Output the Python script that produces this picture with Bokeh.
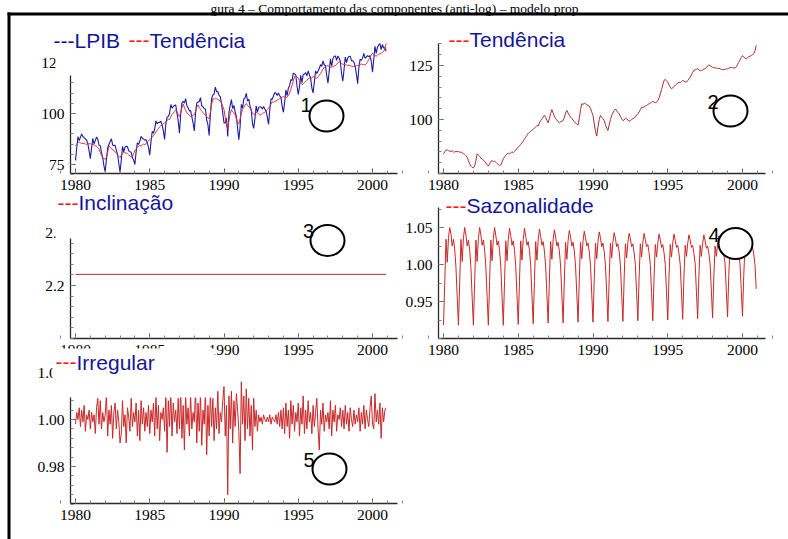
from bokeh.plotting import figure
from bokeh.models import Range1d, LinearAxis, FixedTicker, BoxAnnotation, Label, NumeralTickFormatter, BasicTickFormatter
from bokeh.embed import file_html
from bokeh.resources import INLINE

# ---------------- data (monthly, Jan 1980 - Dec 2000) ----------------
anos = list(range(1980, 2001))
meses = [a + m / 12.0 for a in anos for m in range(12)]

lpib = [
    77.0, 83.1, 88.7, 86.7, 88.4, 90.0, 88.6, 88.2, 87.5, 86.9, 85.0, 81.7,
    77.9, 83.0, 87.8, 85.1, 86.7, 88.5, 87.4, 84.4, 84.3, 80.8, 78.3, 74.3,
    71.4, 77.5, 83.1, 84.8, 86.3, 87.6, 84.7, 84.2, 84.4, 81.9, 79.9, 75.5,
    71.2, 77.2, 83.9, 81.2, 83.5, 84.0, 83.7, 81.7, 81.3, 80.9, 78.4, 77.1,
    75.0, 81.3, 85.6, 84.9, 86.5, 88.8, 87.7, 87.6, 87.0, 87.1, 85.5, 83.4,
    79.6, 86.2, 91.2, 90.4, 92.4, 96.4, 94.9, 95.6, 95.6, 96.2, 94.3, 91.5,
    87.3, 94.9, 98.2, 98.6, 99.9, 104.4, 102.6, 103.5, 104.0, 104.1, 100.2, 96.3,
    90.3, 99.6, 105.2, 106.0, 105.1, 107.3, 103.8, 102.8, 101.3, 101.4, 98.3, 95.4,
    91.5, 100.2, 105.1, 105.7, 105.8, 107.8, 103.7, 103.4, 102.4, 102.1, 96.7, 94.5,
    89.2, 99.6, 107.3, 109.1, 109.5, 112.9, 110.7, 110.8, 108.9, 108.3, 104.8, 100.2,
    95.4, 95.4, 97.8, 88.8, 100.5, 104.0, 106.8, 102.4, 104.0, 100.9, 98.5, 92.6,
    87.1, 93.4, 104.5, 102.6, 107.2, 107.7, 109.9, 106.1, 107.0, 103.6, 102.0, 95.1,
    92.7, 97.6, 103.7, 100.7, 103.0, 103.3, 103.1, 102.2, 103.4, 102.2, 101.2, 98.2,
    94.7, 101.8, 107.3, 106.9, 108.7, 110.2, 110.0, 108.8, 110.1, 108.7, 108.0, 103.5,
    100.6, 105.5, 111.5, 108.8, 112.4, 113.6, 116.6, 116.2, 119.8, 119.4, 118.9, 113.5,
    109.3, 113.2, 118.7, 115.1, 119.1, 119.3, 120.0, 118.5, 120.9, 118.9, 117.4, 112.5,
    110.1, 115.4, 120.9, 119.6, 120.8, 122.0, 124.0, 123.1, 125.8, 123.9, 123.4, 118.7,
    114.9, 120.5, 126.8, 123.2, 126.9, 128.1, 128.2, 126.1, 128.2, 127.2, 125.6, 119.6,
    115.8, 121.5, 127.7, 124.9, 127.3, 127.9, 128.1, 125.9, 125.8, 125.2, 123.1, 119.3,
    114.6, 122.5, 126.5, 126.1, 127.1, 129.5, 127.1, 127.6, 128.4, 127.9, 128.4, 125.6,
    120.3, 126.5, 132.9, 129.5, 132.5, 133.6, 134.2, 131.3, 133.8, 132.1, 132.3, 130.5,
]

tendencia = [
    84.1, 85.0, 85.8, 86.0, 85.6, 85.4, 85.2, 85.5, 85.0, 84.9, 85.3, 85.1,
    85.2, 84.8, 85.0, 84.6, 84.2, 83.9, 83.3, 82.5, 81.0, 79.5, 78.4, 77.8,
    77.6, 78.5, 81.0, 84.1, 83.5, 83.0, 82.1, 81.8, 81.2, 80.6, 79.8, 79.0,
    78.4, 79.5, 80.6, 81.0, 80.5, 80.8, 80.2, 79.6, 79.2, 78.7, 78.9, 80.3,
    81.8, 82.6, 83.5, 84.1, 84.4, 84.0, 84.6, 85.0, 84.7, 85.2, 86.0, 86.5,
    87.2, 87.8, 88.5, 89.2, 90.0, 91.0, 91.8, 92.6, 93.5, 94.1, 94.5, 95.0,
    95.4, 96.0, 96.6, 97.2, 97.0, 98.5, 99.5, 100.2, 101.0, 101.9, 101.0, 99.5,
    98.5, 100.5, 102.8, 104.6, 103.0, 101.5, 100.3, 99.8, 99.0, 98.5, 98.9, 99.2,
    99.5, 101.0, 103.0, 104.2, 103.0, 102.0, 101.1, 100.5, 99.6, 99.1, 98.4, 97.8,
    97.5, 100.5, 104.5, 107.3, 107.0, 107.5, 107.3, 106.8, 106.5, 106.2, 105.0, 103.5,
    101.9, 98.0, 94.5, 92.3, 96.5, 100.0, 101.9, 101.0, 100.3, 99.5, 97.5, 96.0,
    94.9, 97.5, 100.0, 101.9, 103.0, 104.2, 104.9, 104.0, 103.2, 102.6, 101.5, 100.3,
    99.5, 99.8, 100.5, 100.3, 99.8, 99.2, 99.5, 100.0, 100.4, 100.6, 101.3, 102.0,
    102.6, 103.5, 104.6, 105.7, 105.5, 105.9, 106.2, 106.5, 106.9, 107.3, 107.6, 108.0,
    108.3, 108.1, 107.8, 108.0, 108.8, 110.0, 111.9, 113.8, 116.0, 118.1, 118.5, 118.0,
    117.3, 116.0, 115.0, 114.2, 114.6, 115.3, 115.7, 116.3, 116.9, 117.3, 117.0, 117.6,
    118.1, 117.8, 117.5, 117.3, 118.0, 118.8, 119.6, 120.6, 121.8, 122.7, 123.0, 123.3,
    123.5, 123.0, 122.6, 122.7, 123.0, 123.3, 123.5, 124.0, 124.8, 125.3, 124.9, 124.5,
    124.2, 124.0, 123.9, 123.8, 123.6, 123.7, 123.5, 123.2, 123.1, 123.0, 123.2, 123.4,
    123.5, 123.7, 124.0, 124.2, 124.0, 123.9, 123.8, 124.4, 125.4, 126.5, 127.6, 128.7,
    129.6, 129.0, 128.4, 128.1, 128.6, 129.0, 129.3, 129.6, 130.0, 130.4, 131.8, 134.3,
]

incl_t = [1980.0, 2000.917]
inclinacao = [2.221, 2.221]

sazonalidade = [
    .918, .975, 1.034, 1.003, 1.036, 1.050, 1.041, 1.025, 1.034, 1.021, .996, .956,
    .918, .976, 1.034, 1.004, 1.036, 1.050, 1.040, 1.025, 1.033, 1.020, .996, .956,
    .918, .976, 1.033, 1.004, 1.035, 1.050, 1.040, 1.026, 1.033, 1.020, .997, .957,
    .918, .977, 1.033, 1.005, 1.035, 1.050, 1.039, 1.026, 1.032, 1.019, .997, .957,
    .918, .977, 1.032, 1.005, 1.034, 1.049, 1.039, 1.026, 1.032, 1.019, .997, .958,
    .919, .978, 1.032, 1.006, 1.034, 1.049, 1.038, 1.026, 1.031, 1.019, .998, .958,
    .920, .978, 1.031, 1.006, 1.033, 1.048, 1.038, 1.026, 1.031, 1.018, .998, .959,
    .921, .979, 1.031, 1.007, 1.033, 1.047, 1.037, 1.025, 1.030, 1.018, .998, .959,
    .921, .979, 1.030, 1.007, 1.032, 1.046, 1.037, 1.025, 1.030, 1.018, .998, .960,
    .922, .980, 1.030, 1.008, 1.032, 1.045, 1.036, 1.025, 1.029, 1.017, .999, .960,
    .922, .980, 1.029, 1.008, 1.031, 1.044, 1.036, 1.024, 1.029, 1.017, .999, .961,
    .923, .981, 1.029, 1.009, 1.031, 1.043, 1.035, 1.024, 1.028, 1.017, .999, .961,
    .923, .981, 1.028, 1.009, 1.030, 1.042, 1.035, 1.024, 1.028, 1.016, 1.000, .962,
    .924, .982, 1.028, 1.010, 1.030, 1.042, 1.034, 1.024, 1.027, 1.016, 1.000, .962,
    .924, .982, 1.027, 1.010, 1.029, 1.041, 1.034, 1.023, 1.027, 1.016, 1.000, .963,
    .925, .983, 1.027, 1.010, 1.029, 1.041, 1.033, 1.023, 1.026, 1.015, 1.000, .963,
    .926, .983, 1.026, 1.011, 1.028, 1.040, 1.033, 1.023, 1.026, 1.015, 1.001, .964,
    .927, .984, 1.026, 1.011, 1.028, 1.040, 1.032, 1.022, 1.025, 1.015, 1.001, .964,
    .928, .984, 1.025, 1.011, 1.027, 1.039, 1.032, 1.022, 1.025, 1.014, 1.001, .965,
    .929, .985, 1.025, 1.012, 1.027, 1.039, 1.031, 1.022, 1.024, 1.014, 1.001, .966,
    .930, .985, 1.024, 1.012, 1.026, 1.038, 1.031, 1.021, 1.024, 1.014, 1.000, .967,
]

irregular = [
    0.998, 1.003, 1.000, 1.005, 0.997, 1.004, 0.999, 1.006, 0.995, 1.002, 1.000, 1.004,
    0.996, 1.003, 0.999, 1.002, 0.994, 1.005, 1.009, 0.998, 1.008, 0.996, 1.003, 0.999,
    1.002, 1.011, 0.993, 1.004, 0.998, 1.006, 0.992, 1.003, 1.007, 0.996, 1.004, 0.999,
    0.990, 0.994, 1.008, 0.997, 1.002, 0.990, 1.005, 1.001, 0.995, 1.009, 0.997, 1.003,
    0.999, 1.007, 0.993, 1.004, 0.991, 1.008, 0.998, 1.005, 0.995, 1.003, 0.997, 1.006,
    0.994, 1.004, 0.999, 1.007, 0.993, 1.010, 0.996, 1.006, 0.991, 1.003, 1.000, 1.005,
    0.995, 1.011, 0.986, 1.008, 0.997, 1.012, 0.993, 1.007, 0.999, 1.004, 0.994, 1.009,
    0.996, 1.012, 0.992, 1.006, 0.987, 1.010, 0.998, 1.005, 0.993, 1.011, 0.996, 1.003,
    0.999, 1.013, 0.990, 1.007, 0.995, 1.011, 0.989, 1.004, 0.998, 1.012, 0.985, 1.006,
    0.993, 1.011, 0.997, 1.009, 0.991, 1.005, 0.996, 1.012, 0.994, 1.003, 0.999, 1.008,
    1.014, 0.993, 1.006, 0.968, 1.010, 0.996, 1.012, 0.990, 1.008, 0.997, 1.011, 1.004,
    0.995, 0.977, 1.016, 0.998, 1.010, 0.991, 1.013, 0.996, 1.009, 0.993, 1.006, 0.987,
    1.009, 0.997, 1.004, 0.995, 1.002, 0.999, 1.001, 0.998, 1.002, 1.000, 0.999, 1.001,
    0.999, 1.002, 0.998, 1.001, 1.000, 0.999, 1.002, 0.998, 1.003, 0.997, 1.004, 0.996,
    1.005, 0.994, 1.007, 0.997, 1.004, 0.992, 1.008, 0.998, 1.006, 0.995, 1.003, 0.999,
    1.007, 0.993, 1.005, 0.998, 1.010, 0.994, 1.004, 0.996, 1.008, 0.999, 1.003, 0.994,
    1.006, 0.997, 1.003, 1.009, 0.996, 0.987, 1.004, 0.998, 1.007, 0.995, 1.002, 0.999,
    1.003, 0.996, 1.008, 0.993, 1.004, 0.999, 1.006, 0.995, 1.002, 1.000, 1.005, 0.997,
    1.004, 0.996, 1.006, 0.998, 1.003, 0.995, 1.005, 1.000, 0.997, 1.004, 0.998, 1.002,
    0.999, 1.005, 0.995, 1.003, 0.998, 1.006, 0.996, 1.004, 1.000, 0.997, 1.005, 1.010,
    0.998, 0.996, 1.011, 0.999, 1.004, 0.998, 1.007, 0.992, 1.005, 0.999, 1.004, 1.005,
]

# tick labels
x_major = [1980, 1985, 1990, 1995, 2000]
x_minor = list(range(1979, 2003))
p1_yticks = [75, 100, 125]
p1_yminor = [70, 75, 80, 85, 90, 95, 100, 105, 110, 115, 120, 125, 130, 135]
p2_yticks = [100, 125]
p2_yminor = [75, 80, 85, 90, 95, 100, 105, 110, 115, 120, 125, 130, 135]
p3_yticks = [2.2, 2.3]
p3_yminor = [2.10, 2.12, 2.14, 2.16, 2.18, 2.20, 2.22, 2.24, 2.26, 2.28, 2.30]
p4_yticks = [0.95, 1.00, 1.05]
p4_yminor = [0.900, 0.925, 0.950, 0.975, 1.000, 1.025, 1.050, 1.075]
p5_yticks = [0.98, 1.00, 1.02]
p5_yminor = [0.964, 0.968, 0.972, 0.976, 0.980, 0.984, 0.988, 0.992, 0.996,
             1.000, 1.004, 1.008, 1.012, 1.016, 1.020]

# ---------------- page / layout ----------------
W, H = 788, 539
NAVY = "#15159a"
RED = "#ff1a1a"

p = figure(width=W, height=H, x_range=Range1d(0, W), y_range=Range1d(H, 0),
           x_axis_location=None, y_axis_location=None, toolbar_location=None,
           output_backend="svg", min_border=0, outline_line_color=None,
           background_fill_color="white", border_fill_color="white")
p.xgrid.visible = False
p.ygrid.visible = False
for g in p.grid:
    g.grid_line_color = None

# panel calibration: (value, pixel) pairs for x and y, axis pixel positions
panels = {
    "p1": dict(xcal=((1980, 75), (2000, 372)), ycal=((100, 113), (75, 164)),
               xaxis=173, yaxis=70, xend=397, ytop=60, yt=p1_yticks, ym=p1_yminor, fmt="0"),
    "p2": dict(xcal=((1980, 443), (2000, 742)), ycal=((125, 65), (100, 119)),
               xaxis=173, yaxis=438, xend=765, ytop=43, yt=p2_yticks, ym=p2_yminor, fmt="0"),
    "p3": dict(xcal=((1980, 75), (2000, 372)), ycal=((2.2, 285), (2.3, 232)),
               xaxis=338, yaxis=70, xend=397, ytop=231, yt=p3_yticks, ym=p3_yminor, fmt="0.0"),
    "p4": dict(xcal=((1980, 443), (2000, 742)), ycal=((1.05, 227), (0.95, 301)),
               xaxis=338, yaxis=438, xend=765, ytop=207, yt=p4_yticks, ym=p4_yminor, fmt="0.00"),
    "p5": dict(xcal=((1980, 75), (2000, 372)), ycal=((1.00, 419), (0.98, 466)),
               xaxis=503, yaxis=70, xend=397, ytop=371, yt=p5_yticks, ym=p5_yminor, fmt="0.00"),
}


def lin(cal):
    (v0, q0), (v1, q1) = cal
    return lambda q: v0 + (q - q0) * (v1 - v0) / (q1 - q0)


xr, yr = {}, {}
axes = []
for name, c in panels.items():
    fx, fy = lin(c["xcal"]), lin(c["ycal"])
    xr[name + "x"] = Range1d(fx(0), fx(W))
    yr[name + "y"] = Range1d(fy(H), fy(0))
    xa = LinearAxis(x_range_name=name + "x", y_range_name=name + "y",
                    fixed_location=fy(c["xaxis"]),
                    bounds=(fx(c["yaxis"]), fx(c["xend"])),
                    ticker=FixedTicker(ticks=x_major, minor_ticks=x_minor),
                    formatter=BasicTickFormatter(use_scientific=False))
    ya = LinearAxis(x_range_name=name + "x", y_range_name=name + "y",
                    fixed_location=fx(c["yaxis"]),
                    bounds=(fy(c["xaxis"]), fy(c["ytop"])),
                    ticker=FixedTicker(ticks=c["yt"], minor_ticks=c["ym"]),
                    formatter=NumeralTickFormatter(format=c["fmt"]))
    axes.append((xa, "below"))
    axes.append((ya, "left"))
p.extra_x_ranges = xr
p.extra_y_ranges = yr

for ax, side in axes:
    ax.axis_line_color = "#2a2a2a"
    ax.axis_line_width = 1.3
    ax.major_tick_line_color = "#555555"
    ax.minor_tick_line_color = "#808080"
    ax.major_tick_in = 5
    ax.major_tick_out = 0
    ax.minor_tick_in = 3
    ax.minor_tick_out = 0
    ax.major_label_text_font = "Liberation Serif"
    ax.major_label_text_font_size = "15.5px"
    ax.major_label_text_color = "black"
    ax.major_label_standoff = 6
    p.add_layout(ax, side)

# ---------------- series ----------------
p.line(meses, lpib, x_range_name="p1x", y_range_name="p1y", line_color="#1c1ca8", line_width=1.1)
p.line(meses, tendencia, x_range_name="p1x", y_range_name="p1y", line_color="#d2343c", line_width=1.0)
p.line(meses, tendencia, x_range_name="p2x", y_range_name="p2y", line_color="#a83030", line_width=1.0)
p.line(incl_t, inclinacao, x_range_name="p3x", y_range_name="p3y", line_color="#a83030", line_width=1.0)
p.line(meses, sazonalidade, x_range_name="p4x", y_range_name="p4y", line_color="#c82828", line_width=1.0)
p.line(meses, irregular, x_range_name="p5x", y_range_name="p5y", line_color="#c82828", line_width=1.0)

# numbered ellipses (annotations drawn on the scanned figure)
marks_x = [326, 730, 327, 735, 329]
marks_y = [115.5, 110.5, 240, 243, 468.5]
p.ellipse(x=marks_x, y=marks_y, width=34, height=31, fill_color="white",
          line_color="black", line_width=2)

# white legend boxes that overlap the top of some axes in the scan
for (l, r, t, b) in [(55, 250, 20, 75), (55, 180, 190, 238), (52, 214, 348, 397)]:
    p.add_layout(BoxAnnotation(left=l, right=r, top=t, bottom=b, fill_color="white",
                               fill_alpha=1.0, line_alpha=0))

# frame of the figure box (left and top rules)
p.add_layout(BoxAnnotation(left=7, right=10, top=12, bottom=H, fill_color="black",
                           fill_alpha=1.0, line_alpha=0))
p.add_layout(BoxAnnotation(left=7, right=W, top=12, bottom=15, fill_color="black",
                           fill_alpha=1.0, line_alpha=0))

# title (kept fully inside the page, above the box rule)
p.add_layout(Label(x=394, y=0, text="gura 4 – Comportamento das componentes (anti-log) – modelo prop",
                   text_font="Liberation Serif", text_font_size="13.5px", text_color="black",
                   text_baseline="top", text_align="center"))

legend_items = [
    (53, 39.5, "---LPIB", NAVY), (128, 39.5, "---", RED), (149, 39.5, "Tendência", NAVY),
    (448, 39, "---", RED), (469, 39, "Tendência", NAVY),
    (57, 202, "---", RED), (78, 202, "Inclinação", NAVY),
    (445, 205, "---", RED), (466, 205, "Sazonalidade", NAVY),
    (55, 361.5, "---", RED), (76, 361.5, "Irregular", NAVY),
]
for (x, y, t, col) in legend_items:
    p.add_layout(Label(x=x, y=y, text=t, text_font="Liberation Sans", text_font_size="21px",
                       text_color=col, text_baseline="middle", text_align="left"))

for (x, y, t) in [(305.5, 104.5, "1"), (712.5, 101.5, "2"), (308, 230, "3"),
                  (713.5, 234.5, "4"), (308.5, 459.5, "5")]:
    p.add_layout(Label(x=x, y=y, text=t, text_font="Liberation Sans", text_font_size="20px",
                       text_color="black", text_baseline="middle", text_align="center"))

with open("out.html", "w", encoding="utf-8") as f:
    f.write(file_html(p, INLINE))
